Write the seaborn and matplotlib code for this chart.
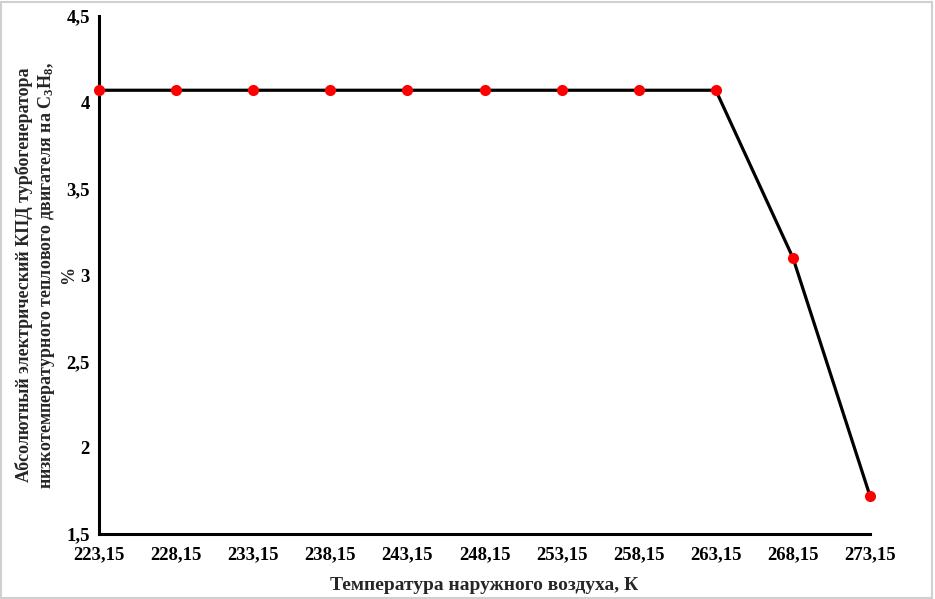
import matplotlib
matplotlib.use("Agg")
import matplotlib.pyplot as plt
import seaborn as sns
import pandas as pd
from matplotlib.ticker import FuncFormatter, FixedLocator
from matplotlib.patches import Rectangle

temperatures = [223.15, 228.15, 233.15, 238.15, 243.15, 248.15, 253.15, 258.15, 263.15, 268.15, 273.15]
efficiency = [4.07, 4.07, 4.07, 4.07, 4.07, 4.07, 4.07, 4.07, 4.07, 3.10, 1.72]
y_ticks = [1.5, 2, 2.5, 3, 3.5, 4, 4.5]

df = pd.DataFrame({"T": temperatures, "eta": efficiency})

sns.set_style("white")
plt.rcParams['font.family'] = ['Liberation Serif', 'DejaVu Serif']
plt.rcParams['font.weight'] = 'bold'
plt.rcParams['mathtext.fontset'] = 'custom'
plt.rcParams['mathtext.rm'] = 'Liberation Serif:bold'
plt.rcParams['mathtext.it'] = 'Liberation Serif:bold'
plt.rcParams['mathtext.bf'] = 'Liberation Serif:bold'

fig = plt.figure(figsize=(9.35, 5.99), dpi=100)
ax = fig.add_axes([0.1059, 0.1085, 0.9305 - 0.1059, 0.9733 - 0.1085])

sns.lineplot(data=df, x="T", y="eta", ax=ax, color="black", linewidth=2.3,
             marker="o", markersize=8, markerfacecolor="red", markeredgecolor="red",
             markeredgewidth=0, zorder=3)
for l in ax.lines:
    l.set_clip_on(False)

ax.set_xlim(temperatures[0], temperatures[-1])
ax.set_ylim(1.5, 4.5)
ax.xaxis.set_major_locator(FixedLocator(temperatures))
ax.yaxis.set_major_locator(FixedLocator(y_ticks))

def fmt_x(v, pos):
    return f"{v:.2f}".replace(".", ",")

def fmt_y(v, pos):
    s = f"{v:g}"
    return s.replace(".", ",")

ax.xaxis.set_major_formatter(FuncFormatter(fmt_x))
ax.yaxis.set_major_formatter(FuncFormatter(fmt_y))

for side in ["top", "right"]:
    ax.spines[side].set_visible(False)
for side in ["left", "bottom"]:
    ax.spines[side].set_linewidth(2.2)
    ax.spines[side].set_color("black")

ax.tick_params(axis="both", direction="inout", length=9, width=1.8, colors="black",
               labelsize=13.5)
ax.tick_params(axis="x", pad=4)
ax.tick_params(axis="y", pad=2)
for lbl in ax.get_xticklabels() + ax.get_yticklabels():
    lbl.set_fontweight("bold")

ax.set_xlabel("Температура наружного воздуха, К", fontsize=14, fontweight="bold", labelpad=10)
ax.set_ylabel("Абсолютный электрический КПД турбогенератора\n"
              "низкотемпературного теплового двигателя на C$_3$H$_8$,",
              fontsize=13, fontweight="bold", linespacing=1.2)
ax.yaxis.set_label_coords(-0.054, 0.5)
fig.text(69 / 935, 1 - 275 / 599, "%", rotation=90, ha="center", va="center",
         fontsize=13, fontweight="bold")

fig.patches.append(Rectangle((0.001, 0.001), 0.996, 0.996, transform=fig.transFigure,
                             fill=False, edgecolor="#d0d0d0", linewidth=1.5))

fig.savefig("out.png", dpi=100)
